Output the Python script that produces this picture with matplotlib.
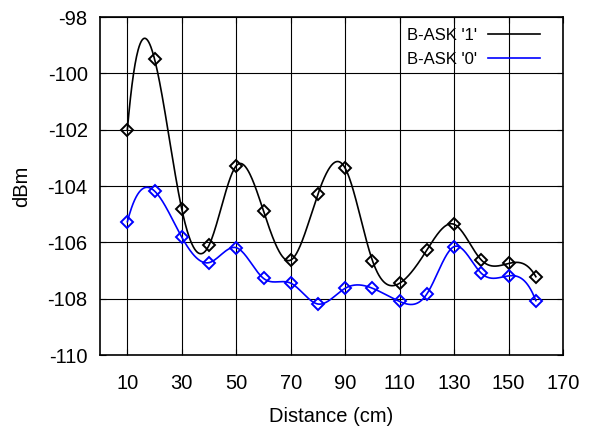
import numpy as np
import matplotlib
matplotlib.use("Agg")
import matplotlib.pyplot as plt

distance = [10, 20, 30, 40, 50, 60, 70, 80, 90, 100, 110, 120, 130, 140, 150, 160]
ask_one = [-102.0, -99.5, -104.83, -106.1, -103.28, -104.89, -106.63, -104.28,
           -103.37, -106.65, -107.45, -106.27, -105.36, -106.63, -106.75, -107.22]
ask_zero = [-105.27, -104.18, -105.82, -106.72, -106.19, -107.28, -107.45, -108.19,
            -107.63, -107.63, -108.1, -107.83, -106.15, -107.1, -107.19, -108.07]
xticks = [10, 30, 50, 70, 90, 110, 130, 150, 170]
yticks = [-110, -108, -106, -104, -102, -100, -98]


def spline(x, y, num=800):
    # cubic spline with not-a-knot ends
    x = np.asarray(x, float)
    y = np.asarray(y, float)
    n = len(x)
    h = np.diff(x)
    A = np.zeros((n, n))
    b = np.zeros(n)
    A[0, 0:3] = [h[1], -(h[0] + h[1]), h[0]]
    A[-1, -3:] = [h[-1], -(h[-2] + h[-1]), h[-2]]
    for i in range(1, n - 1):
        A[i, i - 1] = h[i - 1]
        A[i, i] = 2 * (h[i - 1] + h[i])
        A[i, i + 1] = h[i]
        b[i] = 6 * ((y[i + 1] - y[i]) / h[i] - (y[i] - y[i - 1]) / h[i - 1])
    M = np.linalg.solve(A, b)
    xs = np.linspace(x[0], x[-1], num)
    k = np.clip(np.searchsorted(x, xs) - 1, 0, n - 2)
    t1 = x[k + 1] - xs
    t0 = xs - x[k]
    hk = h[k]
    ys = (M[k] * t1**3 / (6 * hk) + M[k + 1] * t0**3 / (6 * hk)
          + (y[k] / hk - M[k] * hk / 6) * t1 + (y[k + 1] / hk - M[k + 1] * hk / 6) * t0)
    return xs, ys


plt.rcParams['font.family'] = ['Liberation Sans', 'DejaVu Sans']
plt.rcParams['axes.unicode_minus'] = False

fig = plt.figure(figsize=(5.89, 4.3), dpi=100)
ax = fig.add_axes([0.170, 0.1744, 0.786, 0.786])

for vals, col, lab in [(ask_one, 'black', "B-ASK '1'"), (ask_zero, '#0000ff', "B-ASK '0'")]:
    xs, ys = spline(distance, vals)
    ax.plot(xs, ys, color=col, lw=1.2, label=lab, zorder=3)
    ax.plot(distance, vals, linestyle='none', marker='D', markersize=6.3,
            markerfacecolor='none', markeredgecolor=col, markeredgewidth=1.4, zorder=4)

ax.set_xlim(0, 170)
ax.set_ylim(-110, -98)
ax.set_xticks(xticks)
ax.set_yticks(yticks)
ax.tick_params(direction='in', labelsize=14.5, length=4, top=True, right=True)
ax.tick_params(axis='x', pad=14)
ax.tick_params(axis='y', pad=9)
ax.grid(True, color='black', lw=0.8)
for s in ax.spines.values():
    s.set_linewidth(1.2)

ax.set_xlabel('Distance (cm)', fontsize=14.5, labelpad=10)
ax.set_ylabel('dBm', fontsize=14.5, labelpad=12)

leg = ax.legend(loc='upper right', bbox_to_anchor=(0.950, 0.967), frameon=False,
                markerfirst=False, fontsize=12, handlelength=3.1, handletextpad=0.7,
                labelspacing=0.5, borderpad=0, borderaxespad=0)

fig.savefig('out.png', dpi=100)
